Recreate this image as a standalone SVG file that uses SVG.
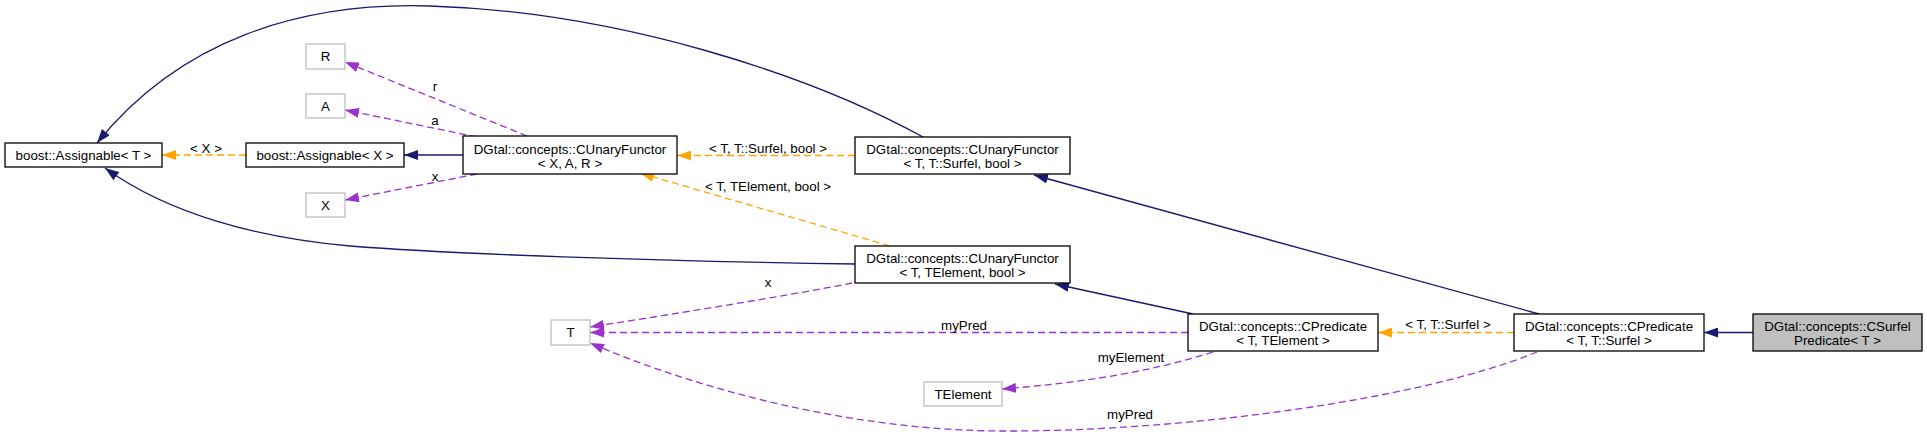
<svg xmlns="http://www.w3.org/2000/svg" width="1927" height="436" viewBox="0 0 1927 436">
<defs>
<style>
text{font-family:"Liberation Sans",Arial,Helvetica,sans-serif;font-size:13.33px;fill:#000;text-anchor:middle}
.box{fill:#fff;stroke:#000;stroke-width:1.3}
.gbox{fill:#fff;stroke:#bfbfbf;stroke-width:1.3}
.cur{fill:#bfbfbf;stroke:#000;stroke-width:1.3}
.e{fill:none;stroke-width:1.3}
.nav{stroke:#191970;marker-end:url(#an)}
.org{stroke:#ffa500;stroke-dasharray:7,4;marker-end:url(#ao)}
.pur{stroke:#9a32cd;stroke-dasharray:7,4;marker-end:url(#ap)}
</style>
<marker id="an" markerUnits="userSpaceOnUse" markerWidth="14" markerHeight="10" viewBox="0 0 14 10" refX="14" refY="5" orient="auto"><path d="M0,0L14,5L0,10z" fill="#191970"/></marker>
<marker id="ao" markerUnits="userSpaceOnUse" markerWidth="14" markerHeight="10" viewBox="0 0 14 10" refX="14" refY="5" orient="auto"><path d="M0,0L14,5L0,10z" fill="#ffa500"/></marker>
<marker id="ap" markerUnits="userSpaceOnUse" markerWidth="14" markerHeight="10" viewBox="0 0 14 10" refX="14" refY="5" orient="auto"><path d="M0,0L14,5L0,10z" fill="#9a32cd"/></marker>
</defs>
<rect width="1927" height="436" fill="#fff"/>
<g id="connectors">
<path class="e nav" d="M1753,332.5L1704,332.5"/>
<path class="e nav" d="M1539,314L1034,175"/>
<path class="e org" d="M1514,332.5L1378,332.5"/>
<text x="1448" y="329">&lt; T, T::Surfel &gt;</text>
<path class="e nav" d="M1193,314L1055,284"/>
<path class="e pur" d="M1188,332.5L590,332.5"/>
<text x="964" y="330">myPred</text>
<path class="e pur" d="M1213,352C1150,372 1080,383 1002,389"/>
<text x="1131" y="362">myElement</text>
<path class="e pur" d="M1537,352C1420,400 1180,432 1000,431C850,430 700,390 590,343"/>
<text x="1130" y="419">myPred</text>
<path class="e pur" d="M852,283C780,297 680,313 590,327"/>
<text x="768" y="287">x</text>
<path class="e org" d="M890,246L640,173"/>
<text x="768" y="191">&lt; T, TElement, bool &gt;</text>
<path class="e org" d="M855,155.5L677,155.5"/>
<text x="768" y="153">&lt; T, T::Surfel, bool &gt;</text>
<path class="e nav" d="M923,137C810,75 620,12 430,6C300,2 180,40 97,143"/>
<path class="e nav" d="M856,264C650,261 450,254 350,246C260,238 170,215 105,168"/>
<path class="e org" d="M246,155L162,155"/>
<text x="206" y="153">&lt; X &gt;</text>
<path class="e nav" d="M463,155L404,155"/>
<path class="e pur" d="M527,136L345,62"/>
<text x="435" y="91">r</text>
<path class="e pur" d="M477,137L345,110"/>
<text x="435" y="125">a</text>
<path class="e pur" d="M477,174L345,200"/>
<text x="435" y="181">x</text>
</g>
<g id="n_assignT"><rect class="box" x="5" y="143" width="157" height="24"/><text x="83.5" y="160">boost::Assignable&lt; T &gt;</text></g>
<g id="n_assignX"><rect class="box" x="246" y="143" width="158" height="24"/><text x="325" y="160">boost::Assignable&lt; X &gt;</text></g>
<g id="n_R"><rect class="gbox" x="306" y="44" width="39" height="25"/><text x="325.5" y="61">R</text></g>
<g id="n_A"><rect class="gbox" x="306" y="94" width="39" height="24"/><text x="325.5" y="110.5">A</text></g>
<g id="n_X"><rect class="gbox" x="306" y="193" width="39" height="24"/><text x="325.5" y="209.5">X</text></g>
<g id="n_cufXAR"><rect class="box" x="463" y="136" width="214" height="38"/><text x="570" y="153.5">DGtal::concepts::CUnaryFunctor</text><text x="570" y="167.5">&lt; X, A, R &gt;</text></g>
<g id="n_cufTS"><rect class="box" x="855" y="137" width="215" height="37"/><text x="962.5" y="154">DGtal::concepts::CUnaryFunctor</text><text x="962.5" y="168">&lt; T, T::Surfel, bool &gt;</text></g>
<g id="n_cufTE"><rect class="box" x="855" y="246" width="215" height="37"/><text x="962.5" y="263">DGtal::concepts::CUnaryFunctor</text><text x="962.5" y="277">&lt; T, TElement, bool &gt;</text></g>
<g id="n_T"><rect class="gbox" x="551" y="320" width="39" height="25"/><text x="570.5" y="337">T</text></g>
<g id="n_TElement"><rect class="gbox" x="924" y="382" width="78" height="24"/><text x="963" y="399">TElement</text></g>
<g id="n_predTE"><rect class="box" x="1188" y="314" width="190" height="37"/><text x="1283" y="331">DGtal::concepts::CPredicate</text><text x="1283" y="345">&lt; T, TElement &gt;</text></g>
<g id="n_predTS"><rect class="box" x="1514" y="314" width="190" height="37"/><text x="1609" y="331">DGtal::concepts::CPredicate</text><text x="1609" y="345">&lt; T, T::Surfel &gt;</text></g>
<g id="n_surfel"><rect class="cur" x="1753" y="314" width="169" height="37"/><text x="1837.5" y="331">DGtal::concepts::CSurfel</text><text x="1837.5" y="345">Predicate&lt; T &gt;</text></g>
</svg>
